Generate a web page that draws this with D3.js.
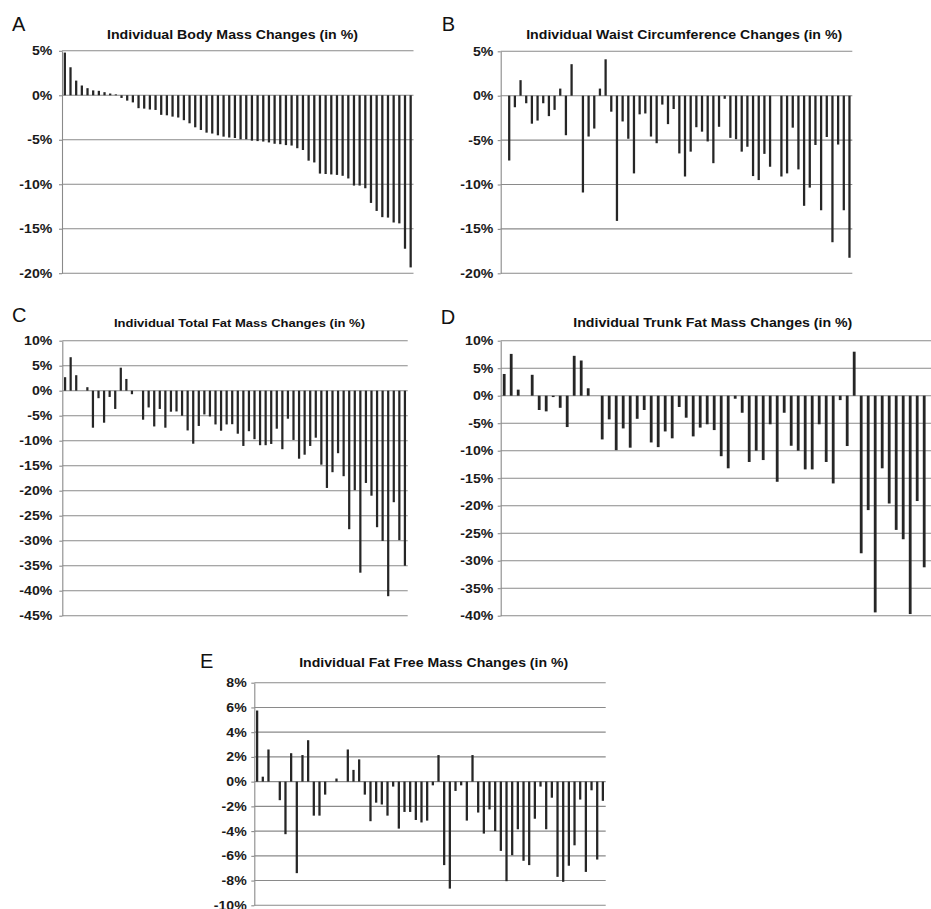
<!DOCTYPE html>
<html>
<head>
<meta charset="utf-8">
<script src="https://cdn.jsdelivr.net/npm/d3@7"></script>
<style>
  html, body { margin: 0; padding: 0; background: #fff; }
  svg { display: block; }
</style>
</head>
<body>
<svg id="chart" width="931" height="909"></svg>
<script>
// ---------- DATA ----------
const categories = d3.range(1, 63); // participants 1..62

const bodyMass = [4.8, 3.15, 1.65, 1.1, 0.8, 0.55, 0.5, 0.35, 0.2, 0.1,
  -0.3, -0.6, -0.8, -1.45, -1.5, -1.6, -1.65, -2.2, -2.25, -2.4,
  -2.5, -2.8, -3.15, -3.6, -3.9, -4.2, -4.3, -4.5, -4.65, -4.75,
  -4.8, -4.95, -4.95, -5.1, -5.15, -5.2, -5.3, -5.45, -5.5, -5.6,
  -5.65, -5.95, -6.15, -7.35, -7.55, -8.8, -8.85, -8.9, -8.95, -9.05,
  -9.35, -10.15, -10.15, -10.45, -12.1, -13.0, -13.7, -13.75, -14.3, -14.4, -17.25, -19.35];

const waist = [0, -7.3, -1.3, 1.75, -0.85, -3.15, -2.8, -0.85, -2.3, -1.6,
  0.8, -4.45, 3.55, 0, -10.9, -4.6, -3.7, 0.8, 4.1, -1.8,
  -14.1, -2.9, -4.85, -8.75, -2.1, -2.0, -4.6, -5.35, -1.0, -3.2,
  -1.5, -6.5, -9.1, -6.3, -3.55, -4.05, -5.15, -7.6, -3.5, -0.35,
  -4.75, -4.9, -6.3, -5.75, -9.05, -9.5, -6.55, -8.0, 0, -9.1,
  -8.75, -3.6, -8.3, -12.4, -10.35, -5.55, -12.9, -4.65, -16.5, -5.5, -12.9, -18.25];

const totalFat = [2.7, 6.7, 3.1, 0, 0.7, -7.4, -1.5, -6.4, -1.25, -3.65,
  4.6, 2.35, -0.7, 0, -5.8, -3.35, -7.15, -3.65, -7.4, -4.2,
  -4.15, -5.0, -7.95, -10.6, -7.05, -4.75, -5.15, -6.75, -8.0, -6.75,
  -6.7, -8.6, -11.05, -8.1, -9.7, -10.9, -10.9, -10.65, -7.6, -11.7,
  -5.6, -9.85, -13.6, -12.8, -11.05, -9.4, -14.8, -19.45, -16.3, -12.5,
  -17.1, -27.7, -19.9, -36.4, -18.45, -21.0, -27.3, -30.05, -41.1, -22.3, -29.9, -35.0];

const trunkFat = [3.95, 7.6, 1.1, 0, 3.8, -2.6, -2.85, -0.25, -2.2, -5.7,
  7.25, 6.4, 1.35, 0, -7.95, -4.3, -9.9, -5.95, -9.45, -4.2,
  -2.6, -8.5, -9.35, -6.5, -7.75, -2.05, -4.0, -7.4, -5.8, -5.2,
  -6.25, -11.0, -13.2, -0.55, -3.1, -12.05, -10.0, -11.7, -5.2, -15.65,
  -3.1, -9.1, -10.0, -13.4, -13.4, -5.2, -12.05, -15.95, -0.8, -9.15,
  8.0, -28.65, -20.8, -39.4, -13.2, -19.6, -24.4, -26.1, -39.7, -19.15, -31.2, null];

const fatFree = [5.75, 0.4, 2.6, 0, -1.5, -4.25, 2.3, -7.4, 2.15, 3.35,
  -2.75, -2.75, -1.05, 0, 0.25, 0, 2.6, 0.95, 1.8, -1.05,
  -3.2, -1.7, -1.85, -2.75, -0.4, -3.8, -2.45, -2.45, -3.1, -3.3,
  -3.15, -0.3, 2.15, -6.75, -8.65, -0.75, -0.3, -3.15, 2.15, -2.5,
  -4.2, -2.25, -4.0, -5.6, -8.05, -5.95, -3.85, -6.4, -6.75, -3.0,
  -0.4, -3.85, -1.3, -7.7, -8.1, -6.8, -5.15, -1.45, -7.3, -0.7, -6.3, -1.55];

const ticksAB = [5, 0, -5, -10, -15, -20];
const ticksC = [10, 5, 0, -5, -10, -15, -20, -25, -30, -35, -40, -45];
const ticksD = [10, 5, 0, -5, -10, -15, -20, -25, -30, -35, -40];
const ticksE = [8, 6, 4, 2, 0, -2, -4, -6, -8, -10];

const panelLetters = ["A", "B", "C", "D", "E"];
const titles = [
  "Individual Body Mass Changes (in %)",
  "Individual Waist Circumference Changes (in %)",
  "Individual Total Fat Mass Changes (in %)",
  "Individual Trunk Fat Mass Changes (in %)",
  "Individual Fat Free Mass Changes (in %)"
];

// ---------- LAYOUT ----------
const panels = [
  { values: bodyMass, ticks: ticksAB, x0: 62, x1: 413.5, y0: 50.8, y1: 273.2,
    lx: 12, ly: 31, tcx: 232.5, ty: 39.3, tw: 251, tfs: 12, gap: 9.7 },
  { values: waist, ticks: ticksAB, x0: 500.7, x1: 852.3, y0: 51.3, y1: 273.3,
    lx: 441.7, ly: 31, tcx: 684.2, ty: 39.3, tw: 316, tfs: 12, gap: 7.4 },
  { values: totalFat, ticks: ticksC, x0: 62.3, x1: 407.7, y0: 340.7, y1: 615.7,
    lx: 12, ly: 321.7, tcx: 239.5, ty: 327.3, tw: 251, tfs: 11.3, gap: 10 },
  { values: trunkFat, ticks: ticksD, x0: 500.7, x1: 934.7, y0: 340.7, y1: 615.7,
    lx: 440.7, ly: 323.5, tcx: 712.8, ty: 326.7, tw: 279, tfs: 12, gap: 7.4 },
  { values: fatFree, ticks: ticksE, x0: 254.3, x1: 605.7, y0: 682.7, y1: 905.3,
    lx: 200, ly: 668, tcx: 433.7, ty: 667.3, tw: 269, tfs: 12, gap: 7.6 }
];

const FONT = "'Liberation Sans', Arial, Helvetica, sans-serif";
const GRID = "#8a8a8a";
const BAR = "#262626";
const SX = 1.13; // horizontal stretch of tick labels in the reference

const svg = d3.select("#chart");
svg.append("rect").attr("width", 931).attr("height", 909).attr("fill", "#fff");

panels.forEach((p, idx) => {
  const g = svg.append("g");
  const ext = d3.extent(p.ticks);
  const y = d3.scaleLinear().domain(ext).range([p.y1, p.y0]);
  const x = d3.scaleBand().domain(categories).range([p.x0, p.x1])
    .paddingInner(0.6).paddingOuter(0.3);

  // gridlines
  g.append("g").selectAll("line").data(p.ticks).join("line")
    .attr("x1", p.x0).attr("x2", p.x1)
    .attr("y1", d => y(d)).attr("y2", d => y(d))
    .attr("stroke", GRID).attr("stroke-width", 1.1);

  // left axis
  const ax = g.append("g").attr("transform", `translate(${p.x0},0)`)
    .call(d3.axisLeft(y).tickValues(p.ticks).tickSize(3).tickSizeOuter(0)
      .tickFormat(d => d + "%"));
  ax.select(".domain").attr("stroke", GRID).attr("stroke-width", 1.1);
  ax.selectAll(".tick line").attr("stroke", GRID).attr("stroke-width", 1.1);
  ax.selectAll(".tick text")
    .attr("x", -p.gap / SX)
    .attr("transform", `scale(${SX},1)`)
    .attr("font-family", FONT).attr("font-size", 12.5).attr("font-weight", "bold")
    .attr("fill", "#1a1a1a");

  // bars
  const data = categories.map((c, i) => ({ c, v: p.values[i] }))
    .filter(d => d.v !== null && d.v !== undefined);
  g.append("g").selectAll("rect").data(data).join("rect")
    .attr("x", d => x(d.c))
    .attr("width", x.bandwidth())
    .attr("y", d => y(Math.max(0, d.v)))
    .attr("height", d => Math.abs(y(d.v) - y(0)))
    .attr("fill", BAR);

  // title
  g.append("text")
    .attr("x", p.tcx).attr("y", p.ty)
    .attr("text-anchor", "middle")
    .attr("font-family", FONT).attr("font-size", p.tfs).attr("font-weight", "bold")
    .attr("textLength", p.tw).attr("lengthAdjust", "spacingAndGlyphs")
    .attr("fill", "#111")
    .text(titles[idx]);

  // panel letter
  g.append("text")
    .attr("x", p.lx).attr("y", p.ly)
    .attr("font-family", FONT).attr("font-size", 20)
    .attr("fill", "#111")
    .text(panelLetters[idx]);
});
</script>
</body>
</html>
